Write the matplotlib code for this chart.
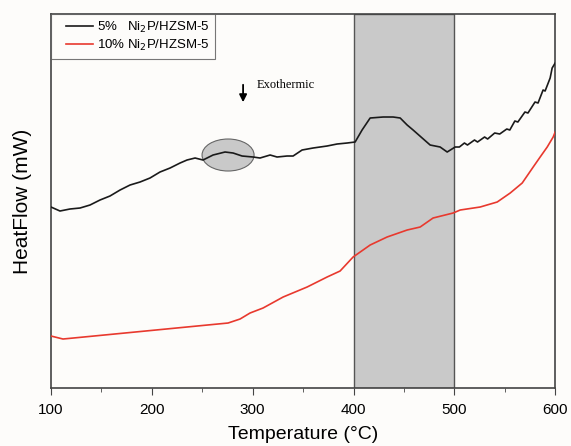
import matplotlib
matplotlib.use("Agg")
import matplotlib.pyplot as plt
import numpy as np
from matplotlib.patches import Ellipse
from matplotlib.ticker import MultipleLocator
from matplotlib.legend_handler import HandlerLine2D

# Data (arbitrary heat-flow units)
t_5 = [100, 108.9, 118.8, 128.8, 138.7, 148.6, 158.5, 168.5, 178.4, 188.3, 198.2, 208.1,
       218.1, 228.0, 234.9, 242.9, 250.8, 260.7, 272.6, 280.6, 289.5, 300.4, 307.3, 317.3,
       324.2, 334.1, 340.1, 349.0, 359.9, 373.8, 383.7, 393.7, 401.6, 408.5, 416.5, 429.4,
       439.3, 446.3, 453.2, 459.1, 468.1, 476.0, 485.9, 492.9, 500.8, 505, 510, 513, 520,
       523, 530, 533, 540, 545, 552, 555, 560, 563, 570, 573, 580, 583, 588, 590, 595, 597, 600]
hf_5 = [181, 177, 179, 180, 183, 188, 192, 198, 203, 206, 210, 216,
        220, 225, 228, 230, 228, 233, 236, 235, 232, 231, 230, 233,
        231, 232, 232, 238, 240, 242, 244, 245, 246, 258, 270, 271,
        271, 270, 263, 258, 250, 243, 241, 236, 241, 241, 245, 243, 248,
        246, 251, 249, 255, 254, 259, 258, 267, 266, 276, 275, 286, 285, 298, 297, 310, 320, 325]

t_10 = [100, 111.9, 275.6, 287.5, 297.4, 310.3, 330.2, 354.0, 373.8, 386.7, 399.6, 416.5,
        433.3, 453.2, 466.1, 478.9, 498.8, 505.8, 525.6, 542.5, 555.4, 567.3, 578.2, 585.1,
        592.1, 598.0, 600]
hf_10 = [52, 49, 65, 69, 75, 80, 91, 101, 111, 117, 131, 143,
         151, 158, 161, 170, 175, 178, 181, 186, 195, 205, 221, 231,
         241, 251, 256]

labels = ["5%   Ni$_2$P/HZSM-5", "10% Ni$_2$P/HZSM-5"]
xticks = [100, 200, 300, 400, 500, 600]


class ShiftedLineHandler(HandlerLine2D):
    def get_xdata(self, legend, xdescent, ydescent, width, height, fontsize):
        x0 = -xdescent + 0.25 * width
        x1 = -xdescent + width
        xd = np.linspace(x0, x1, 2)
        return xd, xd


plt.rcParams['font.family'] = ['Liberation Sans', 'DejaVu Sans']
bg = '#fdfcfa'
fig = plt.figure(figsize=(5.71, 4.46), dpi=100, facecolor=bg)
ax = fig.add_axes([0.0893, 0.130, 0.883, 0.8386], facecolor=bg)

ax.axvspan(400, 500, facecolor='#c9c9c9', edgecolor='#555555', linewidth=1.0, zorder=1)
ax.add_patch(Ellipse((275.6, 233), 51.6, 32, facecolor='#c9c9c9', edgecolor='#666666',
                     linewidth=0.8, zorder=1))

l1, = ax.plot(t_5, hf_5, color='#1a1a1a', linewidth=1.2, label=labels[0], zorder=3)
l2, = ax.plot(t_10, hf_10, color='#e8392e', linewidth=1.2, label=labels[1], zorder=3)

ax.annotate('', xy=(290.5, 283), xytext=(290.5, 306),
            arrowprops=dict(arrowstyle='-|>', color='black', lw=1.3, mutation_scale=11))
ax.text(304, 303, 'Exothermic', fontsize=9, family=['Liberation Serif', 'DejaVu Serif'],
        va='center', ha='left')

ax.set_xlim(100, 600)
ax.set_ylim(0, 374)
ax.set_xticks(xticks)
ax.xaxis.set_minor_locator(MultipleLocator(50))
ax.set_yticks([])
ax.tick_params(axis='x', which='major', direction='out', length=5, labelsize=11,
               color='#444444', pad=6)
ax.tick_params(axis='x', which='minor', direction='out', length=3, color='#444444')
for s in ax.spines.values():
    s.set_color('#444444')
    s.set_linewidth(1.2)

ax.set_xlabel('Temperature (°C)', fontsize=14, labelpad=6.5)
ax.set_ylabel('HeatFlow (mW)', fontsize=15, labelpad=14)

leg = ax.legend(handles=[l1, l2], loc='upper left', fontsize=9.5, frameon=True, fancybox=False,
                edgecolor='#555555', borderaxespad=0.0, handlelength=2.7,
                handletextpad=0.3, borderpad=0.45, labelspacing=0.2,
                handler_map={l1: ShiftedLineHandler(), l2: ShiftedLineHandler()})
leg.get_frame().set_linewidth(0.8)
leg.get_frame().set_facecolor(bg)

fig.savefig('out.png', dpi=100, facecolor=bg)
